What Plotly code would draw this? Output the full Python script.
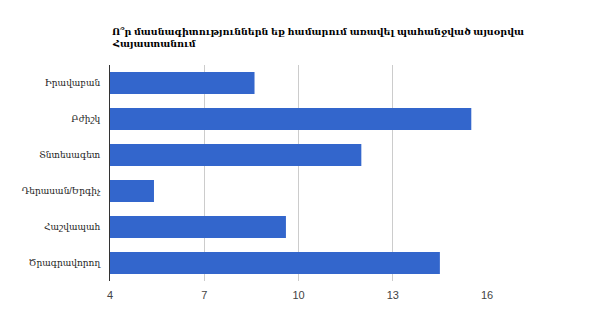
import plotly.graph_objects as go

categories = ["Իրավաբան", "Բժիշկ", "Տնտեսագետ", "Դերասան/Երգիչ", "Հաշվապահ", "Ծրագրավորող"]
values = [8.6, 15.5, 12.0, 5.4, 9.6, 14.5]
x_ticks = [4, 7, 10, 13, 16]
title_lines = ["Ո՞ր մասնագիտություններն եք համարում առավել պահանջված այսօրվա", "Հայաստանում"]

FONT = "Arial, 'Liberation Sans', 'DejaVu Serif', serif"
H, T, B = 333, 65, 52
plot_h = H - T - B

fig = go.Figure(go.Bar(
    x=values, y=categories, orientation="h",
    marker=dict(color="#3366CC", line=dict(width=0)),
    hoverinfo="x+y",
))

for line, cy in zip(title_lines, [31.5, 44]):
    fig.add_annotation(
        text="<b>" + line + "</b>", showarrow=False,
        xref="paper", x=0, xanchor="left",
        yref="paper", y=1 + (T - cy) / plot_h, yanchor="middle",
        font=dict(family=FONT, size=9.5, color="#000000"),
    )

fig.update_layout(
    width=600, height=H,
    margin=dict(l=110, r=113, t=T, b=B),
    paper_bgcolor="white", plot_bgcolor="white",
    bargap=0.39,
    showlegend=False,
    font=dict(family=FONT, size=11, color="#222222"),
    xaxis=dict(
        range=[4, 16], tickvals=x_ticks, ticktext=[str(t) for t in x_ticks],
        showgrid=True, gridcolor="#cccccc", gridwidth=1,
        zeroline=False, showline=False,
        tickfont=dict(family=FONT, size=11, color="#444444"),
        ticks="outside", ticklen=4, tickcolor="rgba(0,0,0,0)",
    ),
    yaxis=dict(
        categoryorder="array", categoryarray=categories, autorange="reversed",
        showline=True, linecolor="#333333", linewidth=1,
        showgrid=False, zeroline=False,
        tickfont=dict(family=FONT, size=9, color="#222222"),
        ticks="outside", ticklen=7, tickcolor="rgba(0,0,0,0)",
    ),
)

fig.write_html("out.html")
